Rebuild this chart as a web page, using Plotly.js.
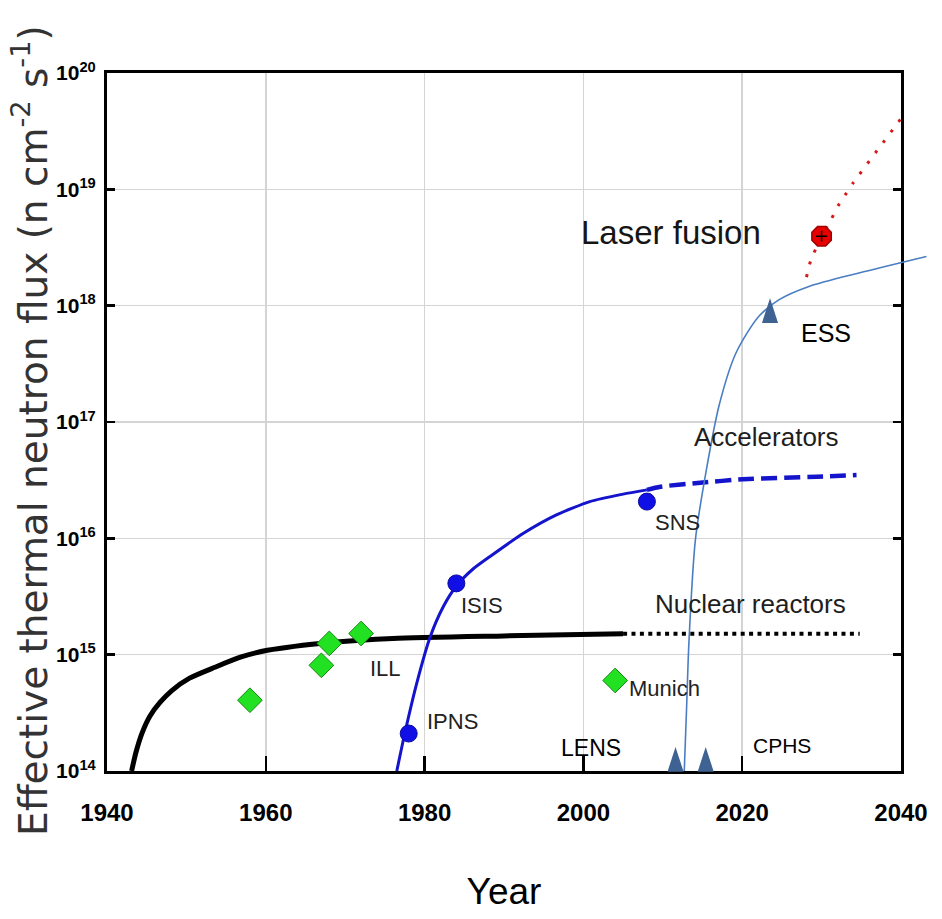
<!DOCTYPE html>
<html><head><meta charset="utf-8">
<script src="https://cdn.plot.ly/plotly-3.0.1.min.js"></script>
<style>html,body{margin:0;padding:0;background:#fff}#chart{width:942px;height:919px}</style>
</head><body><div id="chart"></div>
<script>
// ---- data (years, flux in n cm^-2 s^-1) ----
const reactorYear = [1943.1, 1943.65, 1944.4, 1945.4, 1946.7, 1948.2, 1950.4, 1953.6, 1956.8, 1960.2, 1968.5, 1976.0, 1990.0, 2005.0];
const reactorFlux = [1.0e14, 1.45e14, 2.11e14, 2.96e14, 3.90e14, 4.94e14, 6.28e14, 7.80e14, 9.51e14, 1.09e15, 1.28e15, 1.38e15, 1.45e15, 1.51e15];
const reactorPlanYear = [2005.0, 2034.8];
const reactorPlanFlux = [1.51e15, 1.51e15];
const reactorSiteYear = [1958.0, 1967.0, 1968.0, 1972.0, 2004.0];
const reactorSiteFlux = [4.06e14, 8.1e14, 1.25e15, 1.52e15, 6.0e14];

const accelYear = [1976.5, 1977.5, 1979.0, 1980.7, 1982.35, 1984.0, 1986.1, 1988.2, 1992.4, 1996.6, 2000.8, 2005.0, 2008.0];
const accelFlux = [1.0e14, 2.1e14, 5.65e14, 1.42e15, 2.58e15, 3.89e15, 5.45e15, 6.95e15, 1.10e16, 1.59e16, 2.07e16, 2.40e16, 2.61e16];
const accelPlanYear = [2008.0, 2009.7, 2014.7, 2020.1, 2029.4, 2034.4];
const accelPlanFlux = [2.61e16, 2.78e16, 3.0e16, 3.22e16, 3.39e16, 3.5e16];
const accelSiteYear = [1978.0, 1984.0, 2008.0];
const accelSiteFlux = [2.1e14, 4.1e15, 2.07e16];

const essYear = [2012.7, 2013.0, 2013.3, 2014.1, 2015.4, 2017.1, 2019.2, 2022.1, 2024.6, 2028.4, 2034.7, 2043.2];
const essFlux = [1.0e14, 3.6e14, 1.33e15, 9.7e15, 3.6e16, 1.40e17, 3.9e17, 8.1e17, 1.12e18, 1.46e18, 1.91e18, 2.65e18];
const newSourceYear = [2011.6, 2015.4, 2023.5];   // LENS, CPHS, ESS
const newSourceFlux = [1.61e14, 1.61e14, 1.16e18];

const laserYear = [2028.1, 2028.6, 2030.0, 2031.2, 2032.1, 2033.0, 2034.0, 2040.1];
const laserFlux = [1.76e18, 2.4e18, 3.95e18, 5.5e18, 7.25e18, 9.0e18, 1.14e19, 4.14e19];
const laserPointYear = [2030.0];
const laserPointFlux = [3.95e18];

const xTickVals = [1940, 1960, 1980, 2000, 2020, 2040];
const xTickText = ['1940', '1960', '1980', '2000', '2020', '2040'];
const yTickVals = [1e14, 1e15, 1e16, 1e17, 1e18, 1e19, 1e20];
const yTickText = ['10<sup>14</sup>', '10<sup>15</sup>', '10<sup>16</sup>', '10<sup>17</sup>', '10<sup>18</sup>', '10<sup>19</sup>', '10<sup>20</sup>'];

const labelText = ['Laser fusion', 'Accelerators', 'Nuclear reactors', 'SNS', 'ISIS', 'ILL', 'IPNS', 'Munich', 'LENS', 'CPHS', 'ESS'];
const labelYear = [2011.0, 2023.0, 2021.1, 2011.9, 1987.2, 1975.1, 1983.5, 2010.2, 2001.0, 2025.0, 2030.5];
const labelFlux = [4.24e18, 7.45e16, 2.72e15, 1.38e16, 2.67e15, 7.66e14, 2.68e14, 5.15e14, 1.57e14, 1.66e14, 5.86e17];

const yTitle = 'Effective thermal neutron flux (n cm<sup>-2</sup> s<sup>-1</sup>)';
const xTitle = 'Year';

// ---- styles ----
const SANS = "Liberation Sans, Arial, Helvetica, sans-serif";
const labelSize = [33, 26, 26, 22, 22, 22, 22, 22, 23, 21, 25];
const labelColor = ['#151515','#1e1e1e','#1e1e1e','#222','#222','#222','#222','#222','#000','#000','#000'];

const traces = [
  {x: reactorYear, y: reactorFlux, mode: 'lines', line: {color: '#000', width: 5, shape: 'spline', smoothing: 0.7}, hoverinfo: 'skip'},
  {x: reactorPlanYear, y: reactorPlanFlux, mode: 'lines', line: {color: '#000', width: 4, dash: '4px,4.4px'}, hoverinfo: 'skip'},
  {x: accelYear, y: accelFlux, mode: 'lines', line: {color: '#1414cc', width: 3, shape: 'spline', smoothing: 0.6}, hoverinfo: 'skip'},
  {x: accelPlanYear, y: accelPlanFlux, mode: 'lines', line: {color: '#1414cc', width: 4.5, dash: '16px,7px', shape: 'spline', smoothing: 0.6}, hoverinfo: 'skip'},
  {x: laserYear, y: laserFlux, mode: 'lines', line: {color: '#d81818', width: 3, dash: '3px,10px', shape: 'spline', smoothing: 0.6}, hoverinfo: 'skip'},
  {x: reactorSiteYear, y: reactorSiteFlux, mode: 'markers', cliponaxis: false,
   marker: {symbol: 'diamond', size: 19, color: '#22e022', line: {color: '#138a13', width: 1}}},
  {x: accelSiteYear, y: accelSiteFlux, mode: 'markers', cliponaxis: false,
   marker: {symbol: 'circle', size: 17, color: '#1010e6', line: {color: '#0a0aa0', width: 1}}},
  {x: laserPointYear, y: laserPointFlux, mode: 'markers', cliponaxis: false,
   marker: {symbol: 'octagon', size: 21, color: '#e80000', line: {color: '#a00000', width: 1.5}}},
  {x: laserPointYear, y: laserPointFlux, mode: 'markers', cliponaxis: false,
   marker: {symbol: 'cross-thin', size: 8, color: '#000', line: {color: '#000', width: 1.5}}},
  {x: essYear, y: essFlux, xaxis: 'x2', yaxis: 'y2', mode: 'lines', line: {color: '#4a7ec2', width: 1.6, shape: 'spline', smoothing: 0.8}, hoverinfo: 'skip'},
  {x: newSourceYear, y: newSourceFlux, xaxis: 'x2', yaxis: 'y2', mode: 'markers', cliponaxis: false,
   marker: {symbol: 'arrow', size: 26, color: '#3e6291', line: {width: 0}}}
];

const annotations = labelText.map((t, i) => ({
  text: t, x: labelYear[i], y: Math.log10(labelFlux[i]), xref: 'x', yref: 'y',
  showarrow: false, xanchor: 'center', yanchor: 'middle',
  font: {family: SANS, size: labelSize[i], color: labelColor[i]}
}));
annotations.push({
  text: yTitle, xref: 'paper', yref: 'paper', x: -0.092, y: 0.488,
  xanchor: 'center', yanchor: 'middle', textangle: -90, showarrow: false,
  font: {family: 'DejaVu Sans, sans-serif', size: 39, color: '#333'}
});

const layout = {
  width: 942, height: 919,
  margin: {l: 107, r: 5, t: 73, b: 148},
  paper_bgcolor: '#fff', plot_bgcolor: 'rgba(0,0,0,0)',
  showlegend: false,
  xaxis: {
    domain: [0, 0.9566], range: [1940, 2040], anchor: 'y',
    tickmode: 'array', tickvals: xTickVals, ticktext: xTickText,
    showgrid: true, gridcolor: '#d4d4d4', gridwidth: 1.5, zeroline: false,
    showline: true, linecolor: '#000', linewidth: 3, mirror: true,
    ticks: 'inside', ticklen: 15, tickwidth: 2.5, tickcolor: '#000',
    tickfont: {family: SANS, size: 24, weight: 'bold', color: '#000'},
    ticklabelstandoff: 18,
    title: {text: xTitle, font: {family: SANS, size: 37, color: '#000'}, standoff: 54}
  },
  yaxis: {
    type: 'log', range: [14, 20], anchor: 'x',
    tickmode: 'array', tickvals: yTickVals, ticktext: yTickText,
    showgrid: true, gridcolor: '#d4d4d4', gridwidth: 1.5, zeroline: false,
    showline: true, linecolor: '#000', linewidth: 3, mirror: 'ticks',
    ticks: 'inside', ticklen: 8, tickwidth: 2.5, tickcolor: '#000',
    tickfont: {family: SANS, size: 21, weight: 'bold', color: '#000'},
    ticklabelstandoff: 4
  },
  xaxis2: {domain: [0, 1], range: [1940, 2044.53], anchor: 'y2', visible: false},
  yaxis2: {domain: [0, 1], type: 'log', range: [14, 20], anchor: 'x2', visible: false},
  annotations: annotations
};

Plotly.newPlot('chart', traces, layout, {displayModeBar: false, staticPlot: true});
</script>
</body></html>
